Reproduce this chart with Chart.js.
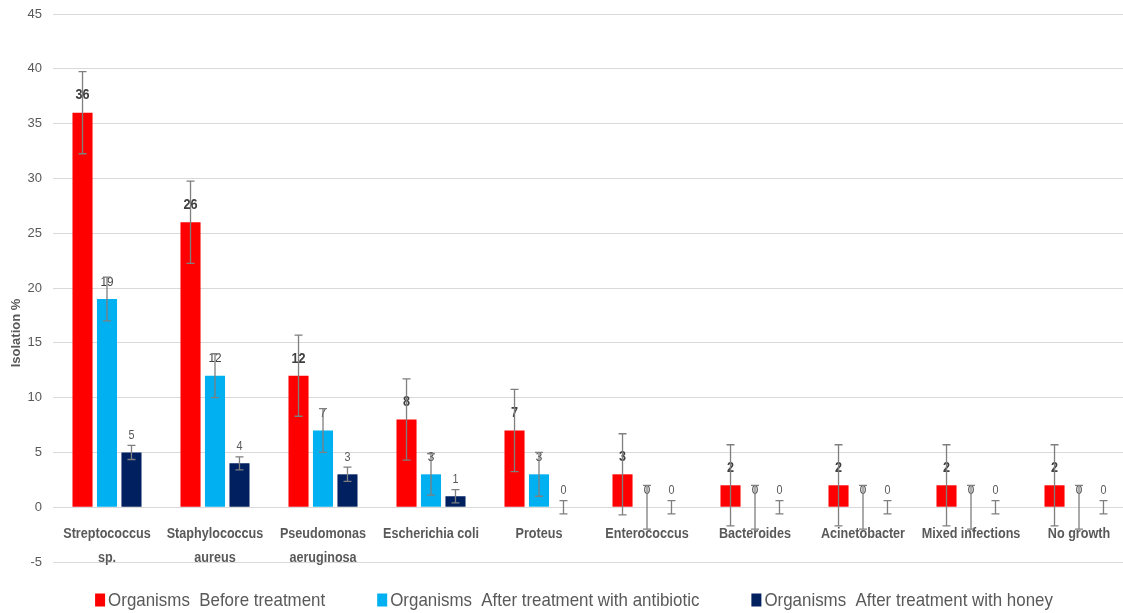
<!DOCTYPE html>
<html>
<head>
<meta charset="utf-8">
<title>Isolation %</title>
<script src="https://cdn.jsdelivr.net/npm/chart.js@4.4.1/dist/chart.umd.min.js"></script>
<style>
    html, body { margin: 0; padding: 0; background: #fff; overflow: hidden; }
    #wrap { width: 1133px; height: 613px; }
</style>
</head>
<body>
<div id="wrap"><canvas id="isolationChart" width="1133" height="613"></canvas></div>
<script>
// chart data
const categories = [
    ['Streptococcus', 'sp.'],
    ['Staphylococcus', 'aureus'],
    ['Pseudomonas', 'aeruginosa'],
    ['Escherichia coli'],
    ['Proteus'],
    ['Enterococcus'],
    ['Bacteroides'],
    ['Acinetobacter'],
    ['Mixed infections'],
    ['No growth']
];
const seriesNames = [
    'Organisms  Before treatment',
    'Organisms  After treatment with antibiotic',
    'Organisms  After treatment with honey'
];
const beforeTreatment = [36, 26, 12, 8, 7, 3, 2, 2, 2, 2];
const afterAntibiotic = [19, 12, 7, 3, 3, 0, 0, 0, 0, 0];
const afterHoney = [5, 4, 3, 1, 0, 0, 0, 0, 0, 0];
const errBefore = [3.75, 3.75, 3.7, 3.7, 3.75, 3.7, 3.7, 3.7, 3.7, 3.7];
const errAntibiotic = [2, 2, 2, 1.9, 2, 2, 2, 2, 2, 2];
const errHoney = [0.65, 0.6, 0.65, 0.6, 0.6, 0.6, 0.6, 0.6, 0.6, 0.6];
const yTicks = [-5, 0, 5, 10, 15, 20, 25, 30, 35, 40, 45];

const FONT = "'Liberation Sans', sans-serif";
const TEXT_GREY = '#595959';

const errorSets = [errBefore, errAntibiotic, errHoney];
const labelStyles = [
    { font: 'bold 14px ' + FONT, color: '#404040' },
    { font: '13px ' + FONT, color: '#404040' },
    { font: '12px ' + FONT, color: TEXT_GREY }
];

// draws text squeezed a little sideways, to get closer to the narrow office font
function narrowText(ctx, text, x, y, squeeze) {
    ctx.save();
    ctx.translate(x, y);
    ctx.scale(squeeze, 1);
    ctx.fillText(text, 0, 0);
    ctx.restore();
}

// error bars, value labels, category labels, axis title and legend
const extrasPlugin = {
    id: 'extras',
    afterDatasetsDraw(chart) {
        const ctx = chart.ctx;
        const y = chart.scales.y;
        const x = chart.scales.x;

        ctx.save();
        chart.data.datasets.forEach((ds, di) => {
            const meta = chart.getDatasetMeta(di);
            meta.data.forEach((bar, i) => {
                const v = ds.data[i];
                // value label
                ctx.font = labelStyles[di].font;
                ctx.fillStyle = labelStyles[di].color;
                ctx.textAlign = 'center';
                ctx.textBaseline = 'middle';
                narrowText(ctx, String(v), bar.x, y.getPixelForValue(v) - 17, 0.9);
                // error bar
                const e = errorSets[di][i];
                const top = y.getPixelForValue(v + e);
                const bot = y.getPixelForValue(v - e);
                ctx.strokeStyle = '#7f7f7f';
                ctx.lineWidth = 1.3;
                ctx.beginPath();
                ctx.moveTo(bar.x, top);
                ctx.lineTo(bar.x, bot);
                ctx.moveTo(bar.x - 4, top);
                ctx.lineTo(bar.x + 4, top);
                ctx.moveTo(bar.x - 4, bot);
                ctx.lineTo(bar.x + 4, bot);
                ctx.stroke();
            });
        });

        // category labels sit just under the zero line
        const zeroY = y.getPixelForValue(0);
        ctx.font = 'bold 14px ' + FONT;
        ctx.fillStyle = TEXT_GREY;
        ctx.textAlign = 'center';
        ctx.textBaseline = 'middle';
        categories.forEach((lines, i) => {
            const cx = x.getPixelForValue(i);
            lines.forEach((line, li) => {
                narrowText(ctx, line, cx, zeroY + 27 + li * 24, 0.9);
            });
        });

        // y axis title
        ctx.save();
        ctx.translate(16, 333);
        ctx.rotate(-Math.PI / 2);
        ctx.font = "bold 13px 'Liberation Sans', sans-serif";
        ctx.fillStyle = TEXT_GREY;
        ctx.fillText('Isolation %', 0, 0);
        ctx.restore();

        // legend
        const squeeze = 0.89;
        ctx.font = '19px ' + FONT;
        ctx.textAlign = 'left';
        const boxW = 10, boxH = 13, gapText = 3, gapItem = 52;
        const widths = seriesNames.map(n => boxW + gapText + ctx.measureText(n).width * squeeze);
        const total = widths.reduce((a, b) => a + b, 0) + gapItem * (widths.length - 1);
        let lx = 574 - total / 2;
        const ly = 600;
        chart.data.datasets.forEach((ds, di) => {
            ctx.fillStyle = ds.backgroundColor;
            ctx.fillRect(lx, ly - boxH / 2, boxW, boxH);
            ctx.fillStyle = TEXT_GREY;
            narrowText(ctx, seriesNames[di], lx + boxW + gapText, ly + 1, squeeze);
            lx += widths[di] + gapItem;
        });
        ctx.restore();
    }
};

const ctx = document.getElementById('isolationChart').getContext('2d');
new Chart(ctx, {
    type: 'bar',
    data: {
        labels: categories,
        datasets: [
            { label: seriesNames[0], data: beforeTreatment, backgroundColor: '#ff0000' },
            { label: seriesNames[1], data: afterAntibiotic, backgroundColor: '#00b0f0' },
            { label: seriesNames[2], data: afterHoney, backgroundColor: '#002060' }
        ]
    },
    options: {
        responsive: false,
        animation: false,
        layout: {
            padding: { top: 14, bottom: 51, left: 0, right: 0 }
        },
        datasets: {
            bar: { categoryPercentage: 0.68, barPercentage: 0.82 }
        },
        plugins: {
            legend: { display: false },
            title: { display: false },
            tooltip: { enabled: false }
        },
        scales: {
            x: {
                display: false
            },
            y: {
                min: -5,
                max: 45,
                afterFit: function (scale) {
                    scale.width = 53;
                    scale.paddingTop = 0;
                },
                afterBuildTicks: function (scale) {
                    scale.ticks = yTicks.map(v => ({ value: v }));
                },
                border: { display: false },
                grid: {
                    color: '#d9d9d9',
                    lineWidth: 1,
                    drawTicks: false
                },
                ticks: {
                    color: TEXT_GREY,
                    padding: 11,
                    font: { family: FONT, size: 13 }
                }
            }
        }
    },
    plugins: [extrasPlugin]
});
</script>
</body>
</html>
